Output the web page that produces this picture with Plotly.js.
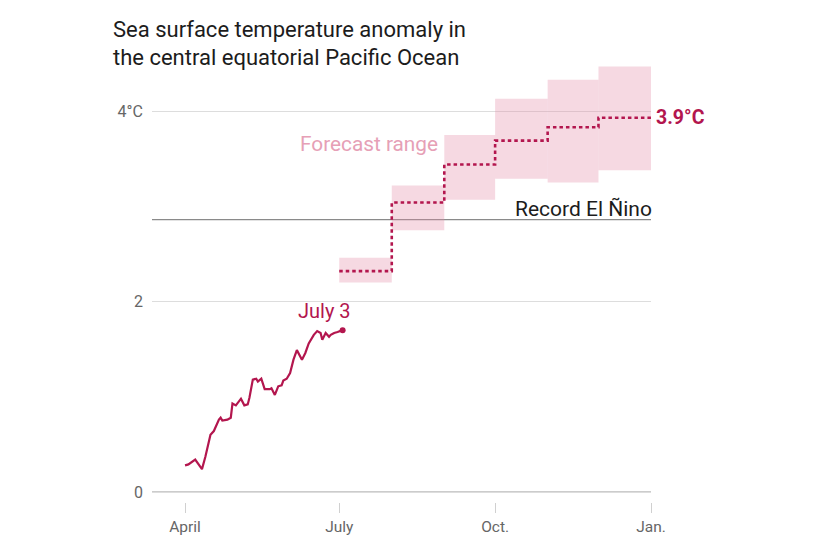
<!DOCTYPE html>
<html>
<head>
<meta charset="utf-8">
<script src="https://cdn.plot.ly/plotly-3.0.1.min.js"></script>
<style>
  html, body { margin: 0; padding: 0; background: #fff; }
  #chart { width: 828px; height: 552px; }
</style>
</head>
<body>
<div id="chart"></div>
<script>
// Observed daily sea surface temperature anomaly (°C), Niño 3.4 region
const obsDates = [
  '2023-04-01','2023-04-03','2023-04-07','2023-04-11','2023-04-13','2023-04-16',
  '2023-04-18','2023-04-21','2023-04-22','2023-04-23','2023-04-26','2023-04-28',
  '2023-04-29','2023-05-01','2023-05-04','2023-05-06','2023-05-08','2023-05-09',
  '2023-05-11','2023-05-13','2023-05-14','2023-05-16','2023-05-18','2023-05-21',
  '2023-05-22','2023-05-24','2023-05-26','2023-05-28','2023-05-29','2023-05-31',
  '2023-06-02','2023-06-04','2023-06-06','2023-06-07','2023-06-09','2023-06-11',
  '2023-06-13','2023-06-16','2023-06-18','2023-06-20','2023-06-21','2023-06-23',
  '2023-06-25','2023-06-26','2023-06-28','2023-06-30','2023-07-03'
];
const obsValues = [
  0.28, 0.29, 0.34, 0.24, 0.37, 0.60,
  0.64, 0.76, 0.78, 0.75, 0.76, 0.78,
  0.93, 0.91, 0.98, 0.91, 0.92, 0.99,
  1.18, 1.19, 1.16, 1.19, 1.08, 1.08,
  1.09, 1.02, 1.11, 1.12, 1.17, 1.19,
  1.25, 1.39, 1.49, 1.46, 1.39, 1.46,
  1.56, 1.65, 1.69, 1.67, 1.60, 1.67,
  1.63, 1.65, 1.67, 1.68, 1.70
];

// Monthly forecast: month start, low / high of the range, and central value
const forecastMonths = ['2023-07-01','2023-08-01','2023-09-01','2023-10-01','2023-11-01','2023-12-01'];
const forecastEnd = '2024-01-01';
const forecastLow  = [2.20, 2.75, 3.07, 3.29, 3.25, 3.38];
const forecastHigh = [2.46, 3.22, 3.75, 4.13, 4.33, 4.47];
const forecastMid  = [2.32, 3.04, 3.44, 3.69, 3.83, 3.93];

// Strongest El Niño on record
const recordElNino = 2.86;

// Axis ticks
const xTickVals = ['2023-04-01','2023-07-01','2023-10-01','2024-01-01'];
const xTickText = ['April','July','Oct.','Jan.'];
const yTickVals = [0, 2, 4];
const yTickText = ['0', '2', '4°C'];

const CRIMSON = '#b3164e';
const FONT = 'Roboto, "Noto Sans", sans-serif';

const traces = [];

// Forecast range boxes, one per month
forecastMonths.forEach((start, i) => {
  const end = i + 1 < forecastMonths.length ? forecastMonths[i + 1] : forecastEnd;
  traces.push({
    type: 'scatter', mode: 'lines',
    x: [start, end, end, start, start],
    y: [forecastLow[i], forecastLow[i], forecastHigh[i], forecastHigh[i], forecastLow[i]],
    fill: 'toself',
    fillcolor: 'rgba(229,141,166,0.33)',
    line: { width: 0 },
    hoverinfo: 'skip', showlegend: false
  });
});

// Central forecast as a dotted step line
traces.push({
  type: 'scatter', mode: 'lines',
  x: forecastMonths.concat([forecastEnd]),
  y: forecastMid.concat([forecastMid[forecastMid.length - 1]]),
  line: { color: CRIMSON, width: 2.6, shape: 'hv', dash: '3.5px,3px' },
  hoverinfo: 'skip', showlegend: false
});

// Observed anomaly
traces.push({
  type: 'scatter', mode: 'lines',
  x: obsDates, y: obsValues,
  line: { color: CRIMSON, width: 2.2 },
  hoverinfo: 'skip', showlegend: false
});

// Latest observation marker
traces.push({
  type: 'scatter', mode: 'markers',
  x: [obsDates[obsDates.length - 1]], y: [obsValues[obsValues.length - 1]],
  marker: { color: CRIMSON, size: 6 },
  hoverinfo: 'skip', showlegend: false
});

const lastMid = forecastMid[forecastMid.length - 1];

const layout = {
  width: 828, height: 552,
  margin: { l: 152, r: 177, t: 54, b: 50 },
  paper_bgcolor: '#fff', plot_bgcolor: '#fff',
  font: { family: FONT, color: '#666', size: 14 },
  showlegend: false,
  xaxis: {
    type: 'date',
    range: ['2023-03-12 12:00', '2024-01-01'],
    tickvals: xTickVals, ticktext: xTickText,
    ticks: 'outside', ticklen: 10, tickcolor: '#d0d0d0', tickwidth: 1,
    ticklabelstandoff: 0,
    showgrid: false, zeroline: false, showline: false,
    tickfont: { family: FONT, size: 15.5, color: '#666' },
    fixedrange: true
  },
  yaxis: {
    range: [-0.105, 4.6],
    tickvals: yTickVals, ticktext: yTickText,
    showgrid: true, gridcolor: '#dddddd', gridwidth: 1,
    zeroline: false, showline: false, ticks: '',
    ticklabelstandoff: 8,
    tickfont: { family: FONT, size: 16, color: '#666' },
    fixedrange: true
  },
  shapes: [
    // baseline at zero
    { type: 'line', xref: 'paper', x0: 0, x1: 1, yref: 'y', y0: 0, y1: 0,
      line: { color: '#999', width: 1.2 }, layer: 'below' },
    // record El Niño reference line
    { type: 'line', xref: 'paper', x0: 0, x1: 1, yref: 'y', y0: recordElNino, y1: recordElNino,
      line: { color: '#8a8a8a', width: 1.2 }, layer: 'below' }
  ],
  annotations: [
    { xref: 'paper', yref: 'paper', x: -41 / 499, y: (502 - 29) / 448.15,
      xanchor: 'left', yanchor: 'middle', showarrow: false,
      text: 'Sea surface temperature anomaly in',
      font: { family: FONT, size: 22, color: '#1c1c1c' } },
    { xref: 'paper', yref: 'paper', x: -41 / 499, y: (502 - 57) / 448.15,
      xanchor: 'left', yanchor: 'middle', showarrow: false,
      text: 'the central equatorial Pacific Ocean',
      font: { family: FONT, size: 22, color: '#1c1c1c' } },
    { x: forecastMonths[2], y: 3.66, xanchor: 'right', yanchor: 'middle', xshift: -4,
      showarrow: false, text: 'Forecast range',
      font: { family: FONT, size: 20.8, color: '#e6a0b6' } },
    { x: forecastEnd, y: recordElNino, xanchor: 'right', yanchor: 'bottom', yshift: -3, xshift: 3,
      showarrow: false, text: 'Record El Ñino',
      font: { family: FONT, size: 21, color: '#1c1c1c' } },
    { x: forecastEnd, y: lastMid, xanchor: 'left', yanchor: 'middle', xshift: 3,
      showarrow: false, text: '<b>' + lastMid.toFixed(1) + '°C</b>',
      font: { family: FONT, size: 19.5, color: CRIMSON } },
    { x: obsDates[obsDates.length - 1], y: obsValues[obsValues.length - 1],
      xanchor: 'center', yanchor: 'bottom', xshift: -18, yshift: 5,
      showarrow: false, text: 'July 3',
      font: { family: FONT, size: 20, color: CRIMSON } }
  ]
};

Plotly.newPlot('chart', traces, layout, { staticPlot: true, displayModeBar: false });
</script>
</body>
</html>
